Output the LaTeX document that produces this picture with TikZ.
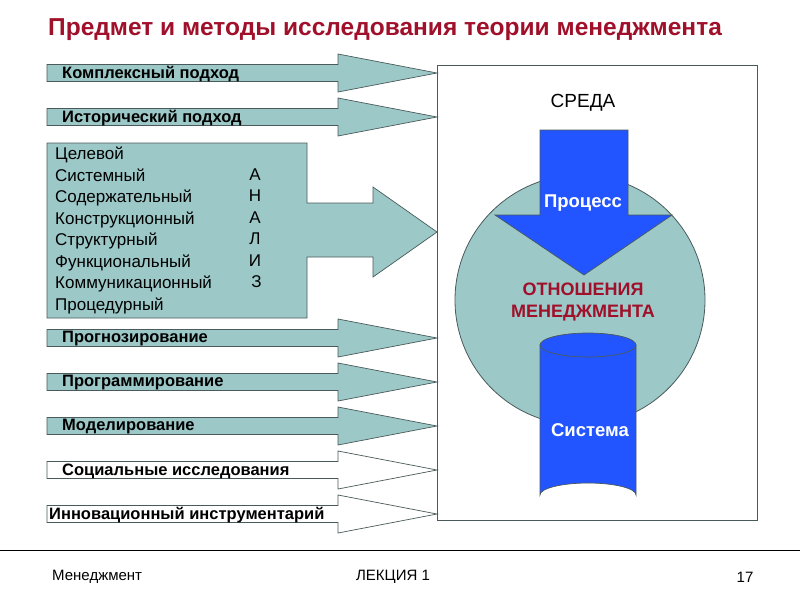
\documentclass[tikz,border=0pt]{standalone}
\usepackage{fontspec}
\setmainfont{Liberation Sans}
\usetikzlibrary{shapes.geometric}
\definecolor{teal1}{HTML}{9CC8C8}
\definecolor{edge1}{HTML}{4A5A5A}
\definecolor{dred}{HTML}{A0102A}
\definecolor{blue1}{HTML}{2255FF}
\begin{document}
\begin{tikzpicture}[x=1pt,y=-1pt,
  arr/.style={draw=edge1,line width=0.7pt,fill=teal1},
  warr/.style={draw=edge1,line width=0.7pt,fill=white},
  lab/.style={anchor=west,font=\bfseries\fontsize{16.5}{19}\selectfont,inner sep=0pt}]
\useasboundingbox (0,0) rectangle (800,600);
% right box
\draw[edge1,line width=0.6pt,fill=white] (437,65) rectangle (757,520);
\node[anchor=center,font=\fontsize{19}{22}\selectfont] (sreda) at (583,103) {СРЕДА};
% circle
\node[circle,draw=edge1,line width=0.8pt,fill=teal1,minimum size=250pt] (circ) at (580,300) {};
% small arrows
\foreach \y/\t/\s/\x in {73/Комплексный подход/arr/62,117/Исторический подход/arr/62,338/Прогнозирование/arr/62,382/Программирование/arr/62,426/Моделирование/arr/62,470/Социальные исследования/warr/62,514/Инновационный инструментарий/warr/49}{
  \draw[\s] (47,\y-8.5) -- (338,\y-8.5) -- (338,\y-19) -- (437,\y) -- (338,\y+19) -- (338,\y+8.5) -- (47,\y+8.5) -- cycle;
  \node[lab] at (\x,\y+1) {\t};
}
% big arrow
\draw[arr] (47,143) -- (307,143) -- (307,203) -- (373,203) -- (373,187) -- (437,232) -- (373,277) -- (373,257) -- (307,257) -- (307,318) -- (47,318) -- cycle;
\node[anchor=north west,align=left,font=\fontsize{17}{21.5}\selectfont,inner sep=0pt] (list) at (55,147) {Целевой\\Системный\\Содержательный\\Конструкционный\\Структурный\\Функциональный\\Коммуникационный\\Процедурный};
\node[anchor=north,align=center,font=\fontsize{17}{21.5}\selectfont,inner sep=0pt] (anal) at (255,168.5) {А\\Н\\А\\Л\\И\\\,З};
% blue process arrow
\draw[edge1,line width=0.7pt,fill=blue1] (540,130) -- (628,130) -- (628,215) -- (672,215) -- (584,275) -- (495,215) -- (540,215) -- cycle;
\node[font=\bfseries\fontsize{18.5}{22}\selectfont,text=white] (proc) at (583,203) {Процесс};
\node[font=\bfseries\fontsize{18}{22}\selectfont,text=dred,align=center] (otn) at (583,302) {ОТНОШЕНИЯ\\МЕНЕДЖМЕНТА};
% cylinder
\draw[edge1,line width=0.7pt,fill=blue1] (540,345) -- (540,495) arc[start angle=180,end angle=360,x radius=48,y radius=12] -- (636,345) -- cycle;
\draw[edge1,line width=0.7pt,fill=blue1] (588,345) ellipse[x radius=48,y radius=12];
\node[font=\bfseries\fontsize{18.5}{22}\selectfont,text=white] (sys) at (590,430) {Система};
% title
\node[font=\bfseries\fontsize{24.5}{28}\selectfont,text=dred] (title) at (385,30) {Предмет и методы исследования теории менеджмента};
% footer
\draw[black,line width=0.8pt] (0,550) -- (800,550);
\node[anchor=west,font=\fontsize{15}{17}\selectfont,inner sep=0pt] (f1) at (52,577) {Менеджмент};
\node[font=\fontsize{15}{17}\selectfont,inner sep=0pt] (f2) at (393,577) {ЛЕКЦИЯ 1};
\node[font=\fontsize{15}{17}\selectfont,inner sep=0pt] (f3) at (745,577) {17};
\end{tikzpicture}
\end{document}
